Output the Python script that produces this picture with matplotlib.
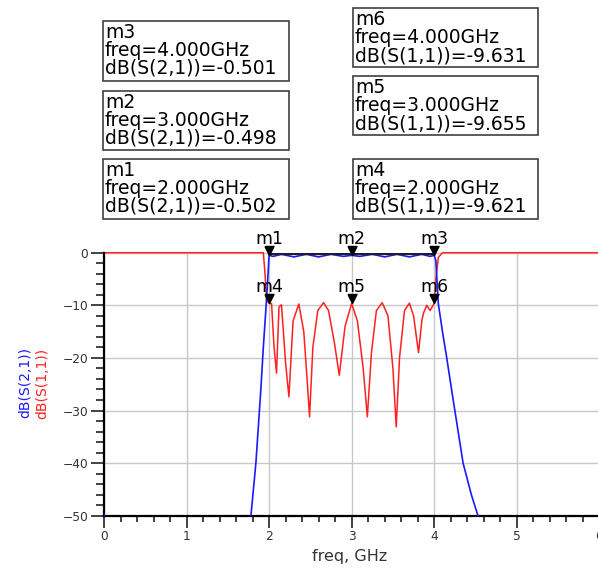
import matplotlib
matplotlib.use('Agg')
import matplotlib.pyplot as plt
from matplotlib.patches import Rectangle
from matplotlib.path import Path
from matplotlib.ticker import MultipleLocator

# S(2,1) trace, dB vs GHz
s21_freq = [0.0, 0.04, 1.74, 1.78, 1.81, 1.84, 1.87, 1.90, 1.93, 1.96, 1.98, 2.00,
            2.05, 2.15, 2.30, 2.45, 2.60, 2.75, 2.90, 3.00, 3.10, 3.25, 3.40, 3.55,
            3.70, 3.85, 3.95, 4.00, 4.02, 4.05, 4.10, 4.15, 4.22, 4.28, 4.35, 4.45,
            4.53, 4.60, 6.0]
s21_db = [-49.8, -62, -62, -50, -45, -40, -33, -26, -18, -11, -6, -0.5,
          -0.7, -0.3, -0.8, -0.3, -0.8, -0.3, -0.7, -0.5, -0.7, -0.3, -0.8, -0.3,
          -0.8, -0.3, -0.7, -0.5, -1.5, -9.7, -15, -19.8, -27, -33, -40, -46,
          -50, -55, -80]

# S(1,1) trace
s11_freq = [0.0, 1.93, 1.95, 1.97, 2.00, 2.03, 2.06, 2.09, 2.12, 2.15, 2.20, 2.24,
            2.29, 2.36, 2.42, 2.46, 2.49, 2.53, 2.59, 2.66, 2.72, 2.79, 2.85, 2.92,
            3.00, 3.07, 3.14, 3.19, 3.24, 3.30, 3.37, 3.44, 3.50, 3.54, 3.58, 3.64,
            3.70, 3.75, 3.81, 3.85, 3.87, 3.91, 3.95, 4.00, 4.02, 4.05, 4.10, 6.0]
s11_db = [0, 0, -3.9, -9.0, -9.62, -9.7, -18, -22.9, -10.3, -9.9, -21, -27.4,
          -13, -9.75, -15, -24, -31.2, -18, -11, -9.5, -11, -17, -23.3, -14,
          -9.65, -13, -22, -31.2, -19, -11, -9.5, -12, -22, -33.1, -20, -11,
          -9.6, -12, -19.0, -13, -11.5, -10, -11, -9.63, -5, -0.9, 0, 0]

band_freq = [2.0, 4.0]
band_db = [-0.2, -0.2]

# markers
marker_names = ['m1', 'm2', 'm3', 'm4', 'm5', 'm6']
marker_freq = [2.0, 3.0, 4.0, 2.0, 3.0, 4.0]
marker_db = [-0.502, -0.498, -0.501, -9.621, -9.655, -9.631]
marker_trace = ['dB(S(2,1))'] * 3 + ['dB(S(1,1))'] * 3

# readout boxes in pixels: left, top, right, bottom
box_px = {'m3': (103, 21, 289, 81), 'm2': (103, 91, 289, 150), 'm1': (103, 159, 289, 219),
          'm6': (353, 8, 538, 67), 'm5': (353, 76, 538, 135), 'm4': (353, 159, 538, 219)}

W, H = 598, 571
fig = plt.figure(figsize=(W / 100, H / 100), dpi=100)
ax = fig.add_axes([104 / W, 1 - 515.7 / H, 495.3 / W, 263 / H])

ax.plot(s21_freq, s21_db, color='#1a1aff', lw=1.2, zorder=3)
ax.plot(s11_freq, s11_db, color='#ff2020', lw=1.1, zorder=2, clip_on=False)
ax.plot(band_freq, band_db, color='#202020', lw=1.6, zorder=4)

tri = Path([(-0.5, 1.0), (0.5, 1.0), (0.0, 0.0), (-0.5, 1.0)])
ax.plot(marker_freq, marker_db, ls='none', marker=tri, ms=13, color='black',
        zorder=6, clip_on=False)
for name, f, d in zip(marker_names, marker_freq, marker_db):
    ax.annotate(name, (f, d), xytext=(0, 11), textcoords='offset pixels',
                ha='center', va='baseline', fontsize=12.5, color='black')

ax.set_xlim(0, 6)
ax.set_ylim(-50, 0)
ax.xaxis.set_major_locator(MultipleLocator(1))
ax.xaxis.set_minor_locator(MultipleLocator(0.2))
ax.yaxis.set_major_locator(MultipleLocator(10))
ax.yaxis.set_minor_locator(MultipleLocator(2))
ax.grid(True, which='major', color='#c8c8c8', lw=1)
ax.set_axisbelow(True)
for s in ['top', 'right']:
    ax.spines[s].set_visible(False)
for s in ['left', 'bottom']:
    ax.spines[s].set_linewidth(1.6)
ax.tick_params(which='both', width=1.2, colors='#222222', labelcolor='#333333',
               labelsize=8.8)
ax.tick_params(axis='y', which='major', length=9.4, pad=2)
ax.tick_params(axis='y', which='minor', length=5.8)
ax.tick_params(axis='x', which='major', length=8.6, pad=1.5)
ax.tick_params(axis='x', which='minor', length=4.3)

fig.text(350 / W, 1 - 556 / H, 'freq, GHz', ha='center', va='center',
         fontsize=11.5, color='#333333')
fig.text(25 / W, 1 - 383 / H, 'dB(S(2,1))', rotation=90, ha='center', va='center',
         fontsize=10, color='#1a1aff')
fig.text(42 / W, 1 - 383 / H, 'dB(S(1,1))', rotation=90, ha='center', va='center',
         fontsize=10, color='#ff2020')

# marker readout boxes
for name, f, d, tr in zip(marker_names, marker_freq, marker_db, marker_trace):
    l, t, r, b = box_px[name]
    fig.patches.append(Rectangle((l / W, 1 - b / H), (r - l) / W, (b - t) / H,
                                 transform=fig.transFigure, fill=False,
                                 edgecolor='#404040', lw=1.2))
    lines = [name, 'freq=%.3fGHz' % f, '%s=%.3f' % (tr, d)]
    for k, txt in enumerate(lines):
        fig.text((l + 2) / W, 1 - (t + 17 + 18 * k) / H, txt, ha='left',
                 va='baseline', fontsize=13.5, color='black')

fig.savefig('out.png', dpi=100)
